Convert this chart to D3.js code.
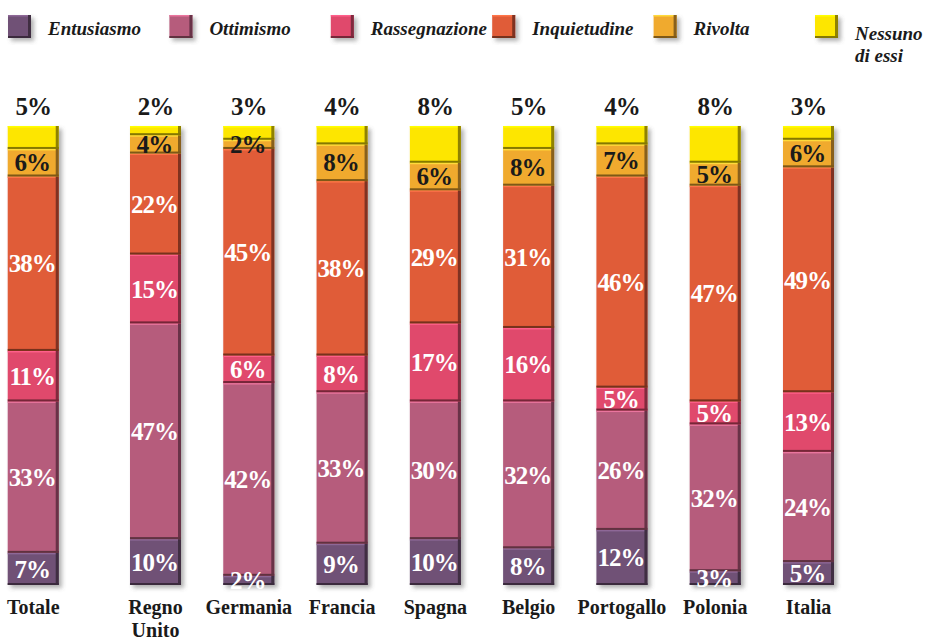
<!DOCTYPE html>
<html>
<head>
<meta charset="utf-8">
<script src="https://cdn.jsdelivr.net/npm/d3@7"></script>
<style>
  body { margin: 0; background: #fff; }
  svg { display: block; }
</style>
</head>
<body>
<div id="chart"></div>
<script>
// data
var countries = ["Totale", "Regno Unito", "Germania", "Francia", "Spagna", "Belgio", "Portogallo", "Polonia", "Italia"];
var series = ["Entusiasmo", "Ottimismo", "Rassegnazione", "Inquietudine", "Rivolta", "Nessuno di essi"];
var entusiasmo    = [7, 10, 2, 9, 10, 8, 12, 3, 5];
var ottimismo     = [33, 47, 42, 33, 30, 32, 26, 32, 24];
var rassegnazione = [11, 15, 6, 8, 17, 16, 5, 5, 13];
var inquietudine  = [38, 22, 45, 38, 29, 31, 46, 47, 49];
var rivolta       = [6, 4, 2, 8, 6, 8, 7, 5, 6];
var nessuno       = [5, 2, 3, 4, 8, 5, 4, 8, 3];

var colors = ["#6f5176", "#b65b7b", "#e04a6c", "#e05b38", "#f0aa2e", "#fde600"];

var width = 927, height = 642;
var serif = "'Liberation Serif', 'Times New Roman', serif";

var svg = d3.select("#chart").append("svg")
    .attr("width", width)
    .attr("height", height);

// drop shadow for the bevelled blocks
var defs = svg.append("defs");
var f = defs.append("filter").attr("id", "shadow")
    .attr("x", "-20%").attr("y", "-20%").attr("width", "150%").attr("height", "150%");
f.append("feDropShadow")
    .attr("dx", 3).attr("dy", 3).attr("stdDeviation", 2)
    .attr("flood-color", "#555").attr("flood-opacity", 0.45);

// build table for the stack
var values = [entusiasmo, ottimismo, rassegnazione, inquietudine, rivolta, nessuno];
var table = countries.map(function(c, i) {
  var row = {country: c};
  series.forEach(function(s, j) { row[s] = values[j][i]; });
  return row;
});
var stacked = d3.stack().keys(series)(table);

// scales
var totalGap = 29; // Totale sits a bit apart from the countries
var x = d3.scaleBand()
    .domain(countries)
    .range([36.7, 834])
    .paddingInner(0.453)
    .paddingOuter(0);
function bx(c) { return x(c) - (c === "Totale" ? totalGap : 0); }

var y = d3.scaleLinear()
    .domain([0, 100])
    .range([585, 126]);

var color = d3.scaleOrdinal().domain(series).range(colors);

// draw a bevelled block
function block(g, x0, y0, w, h, c) {
  var col = d3.color(c);
  g.append("rect")
    .attr("x", x0).attr("y", y0).attr("width", w).attr("height", h)
    .attr("fill", c);
  // light top edge
  g.append("rect")
    .attr("x", x0).attr("y", y0).attr("width", w).attr("height", Math.min(1.5, h))
    .attr("fill", col.brighter(0.7));
  // dark right edge
  g.append("rect")
    .attr("x", x0 + w - 3).attr("y", y0).attr("width", 3).attr("height", h)
    .attr("fill", d3.color(c).darker(1.6));
  // dark bottom edge
  g.append("rect")
    .attr("x", x0).attr("y", y0 + h - Math.min(2, h)).attr("width", w).attr("height", Math.min(2, h))
    .attr("fill", d3.color(c).darker(1.8));
}

var bars = svg.append("g").attr("filter", "url(#shadow)");

stacked.forEach(function(layer) {
  layer.forEach(function(d) {
    var c = d.data.country;
    block(bars, bx(c), y(d[1]), x.bandwidth(), y(d[0]) - y(d[1]), color(layer.key));
  });
});

// labels in the segments
var labels = svg.append("g")
    .attr("font-family", serif)
    .attr("font-weight", "bold")
    .attr("font-size", 25)
    .attr("text-anchor", "middle");

stacked.forEach(function(layer) {
  if (layer.key === "Nessuno di essi") return;
  labels.selectAll(null)
    .data(layer)
    .enter()
    .append("text")
      .attr("x", function(d) { return bx(d.data.country) + x.bandwidth() / 2 - 1; })
      .attr("y", function(d) { return (y(d[0]) + y(d[1])) / 2; })
      .attr("dy", "0.35em")
      .attr("fill", layer.key === "Rivolta" ? "#1a1a1a" : "#fff")
      .attr("letter-spacing", -1)
      .text(function(d) { return (d[1] - d[0]) + "%"; });
});

// Nessuno values above the bars
labels.selectAll(null)
  .data(stacked[stacked.length - 1])
  .enter()
  .append("text")
    .attr("x", function(d) { return bx(d.data.country) + x.bandwidth() / 2; })
    .attr("y", y(100) - 11)
    .attr("fill", "#1a1a1a")
    .attr("letter-spacing", -1)
    .text(function(d) { return (d[1] - d[0]) + "%"; });

// category labels (one text per line)
var cats = svg.append("g")
    .attr("font-family", serif)
    .attr("font-weight", "bold")
    .attr("font-size", 20)
    .attr("fill", "#1a1a1a")
    .attr("text-anchor", "middle");

countries.forEach(function(c) {
  c.split(" ").forEach(function(w, i) {
    cats.append("text")
      .attr("x", bx(c) + x.bandwidth() / 2)
      .attr("y", 614 + i * 23)
      .text(w);
  });
});

// legend
var lx = d3.scalePoint().domain(series).range([8, 815]);
var legend = svg.append("g");
var legBoxes = legend.append("g").attr("filter", "url(#shadow)");
series.forEach(function(s) {
  block(legBoxes, lx(s), 15, 23, 23, color(s));
  var lines = s === "Nessuno di essi" ? ["Nessuno", "di essi"] : [s];
  lines.forEach(function(w, i) {
    legend.append("text")
      .attr("x", lx(s) + 40)
      .attr("y", (lines.length > 1 ? 40 : 35) + i * 22)
      .attr("font-family", serif)
      .attr("font-weight", "bold")
      .attr("font-style", "italic")
      .attr("font-size", 19)
      .attr("fill", "#1a1a1a")
      .text(w);
  });
});
</script>
</body>
</html>
